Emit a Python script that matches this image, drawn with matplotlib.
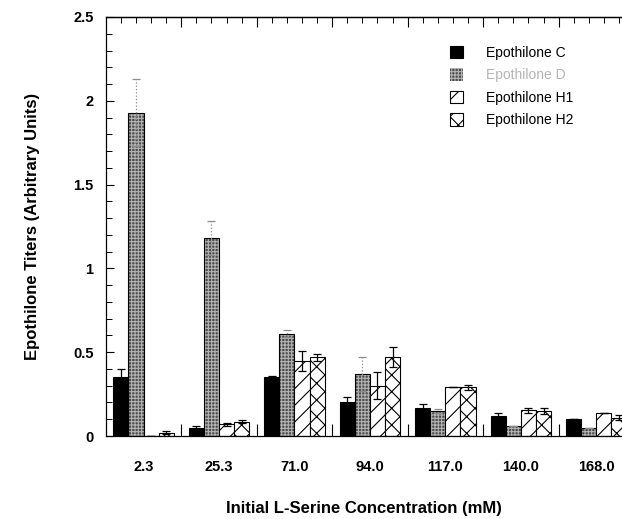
import numpy as np
import matplotlib
matplotlib.use('Agg')
import matplotlib.pyplot as plt
from matplotlib.ticker import FixedLocator, MultipleLocator

plt.rcParams['font.family'] = ['Liberation Sans', 'DejaVu Sans']
plt.rcParams['hatch.linewidth'] = 0.8

# dati
concentrations = ['2.3', '25.3', '71.0', '94.0', '117.0', '140.0', '168.0']
series_names = ['Epothilone C', 'Epothilone D', 'Epothilone H1', 'Epothilone H2']

epo_c = [0.35, 0.05, 0.355, 0.20, 0.17, 0.12, 0.10]
epo_c_err = [0.05, 0.01, 0.005, 0.035, 0.02, 0.015, 0.0]
epo_d = [1.93, 1.18, 0.61, 0.37, 0.15, 0.06, 0.05]
epo_d_err = [0.20, 0.10, 0.02, 0.10, 0.01, 0.0, 0.0]
epo_h1 = [0.0, 0.07, 0.45, 0.30, 0.29, 0.155, 0.14]
epo_h1_err = [0.0, 0.01, 0.06, 0.08, 0.0, 0.015, 0.0]
epo_h2 = [0.02, 0.085, 0.47, 0.47, 0.29, 0.15, 0.11]
epo_h2_err = [0.01, 0.01, 0.02, 0.06, 0.015, 0.02, 0.015]

y_ticks = [0, 0.5, 1, 1.5, 2, 2.5]
y_ticklabels = ['0', '0.5', '1', '1.5', '2', '2.5']

x = np.arange(len(concentrations))
w = 0.2
offsets = [-0.3, -0.1, 0.1, 0.3]

fig = plt.figure(figsize=(6.22, 5.19), dpi=100)
ax = fig.add_axes([106 / 622, 83 / 519, 516 / 622, 419 / 519])

# Epothilone C - pieno nero
ax.bar(x + offsets[0], epo_c, w, color='black', edgecolor='black', lw=0.8,
       label=series_names[0])
# Epothilone D - retino grigio scuro
ax.bar(x + offsets[1], epo_d, w, color='#4c4c4c', edgecolor='#b4b4b4', lw=0,
       hatch='+++++', label=series_names[1])
ax.bar(x + offsets[1], epo_d, w, fill=False, edgecolor='black', lw=0.8)
# H1 / H2 - tratteggi
ax.bar(x + offsets[2], epo_h1, w, color='white', edgecolor='black', lw=0.8,
       hatch='//', label=series_names[2])
ax.bar(x + offsets[3], epo_h2, w, color='white', edgecolor='black', lw=0.8,
       hatch='xx', label=series_names[3])

ekw = dict(fmt='none', capsize=3, elinewidth=0.9, capthick=0.9, zorder=5)
ax.errorbar(x + offsets[0], epo_c, yerr=epo_c_err, ecolor='black', **ekw)
eb = ax.errorbar(x + offsets[1], epo_d, yerr=epo_d_err, ecolor='#8c8c8c', **ekw)
for lc in eb[2]:
    lc.set_linestyle(':')
ax.errorbar(x + offsets[2], epo_h1, yerr=epo_h1_err, ecolor='black', **ekw)
ax.errorbar(x + offsets[3], epo_h2, yerr=epo_h2_err, ecolor='black', **ekw)

ax.set_xlim(-0.497, 6.34)
ax.set_ylim(0, 2.5)

ax.spines['right'].set_visible(False)
for s in ['left', 'top', 'bottom']:
    ax.spines[s].set_linewidth(0.9)

# asse y
ax.set_yticks(y_ticks)
ax.set_yticklabels(y_ticklabels)
ax.yaxis.set_minor_locator(MultipleLocator(0.1))
ax.tick_params(axis='y', which='major', direction='in', length=6, width=0.8,
               pad=9, labelsize=10.5)
ax.tick_params(axis='y', which='minor', direction='in', length=4, width=0.7)

# asse x: etichette ai centri, tacche ai confini dei gruppi
ax.set_xticks(x)
ax.set_xticklabels(concentrations)
ax.xaxis.set_minor_locator(FixedLocator(np.arange(0.5, 7, 1.0)))
ax.tick_params(axis='x', which='major', length=0, pad=17, labelsize=10.5)
ax.tick_params(axis='x', which='minor', direction='in', length=9, width=0.8)
for t in ax.get_xticklabels() + ax.get_yticklabels():
    t.set_fontweight('bold')

# tacche sul bordo superiore
top = ax.secondary_xaxis('top')
top.set_xticks(np.arange(0.5, 7, 1.0))
top.xaxis.set_minor_locator(FixedLocator(np.arange(-0.3, 6.4, 0.2)))
top.tick_params(which='major', direction='in', length=7, width=0.8, labeltop=False)
top.tick_params(which='minor', direction='in', length=4, width=0.7)
top.spines['top'].set_linewidth(0.9)

ax.set_xlabel('Initial L-Serine Concentration (mM)', fontsize=12,
              fontweight='bold', labelpad=20)
ax.set_ylabel('Epothilone Titers (Arbitrary Units)', fontsize=12,
              fontweight='bold', labelpad=24)

leg = ax.legend(loc='upper left', bbox_to_anchor=(0.655, 0.945), frameon=False,
                fontsize=10, handlelength=1.0, handleheight=1.0,
                handletextpad=1.6, labelspacing=0.62, borderaxespad=0)
leg.get_texts()[1].set_color('#b5b5b5')

fig.savefig('out.png', dpi=100)
